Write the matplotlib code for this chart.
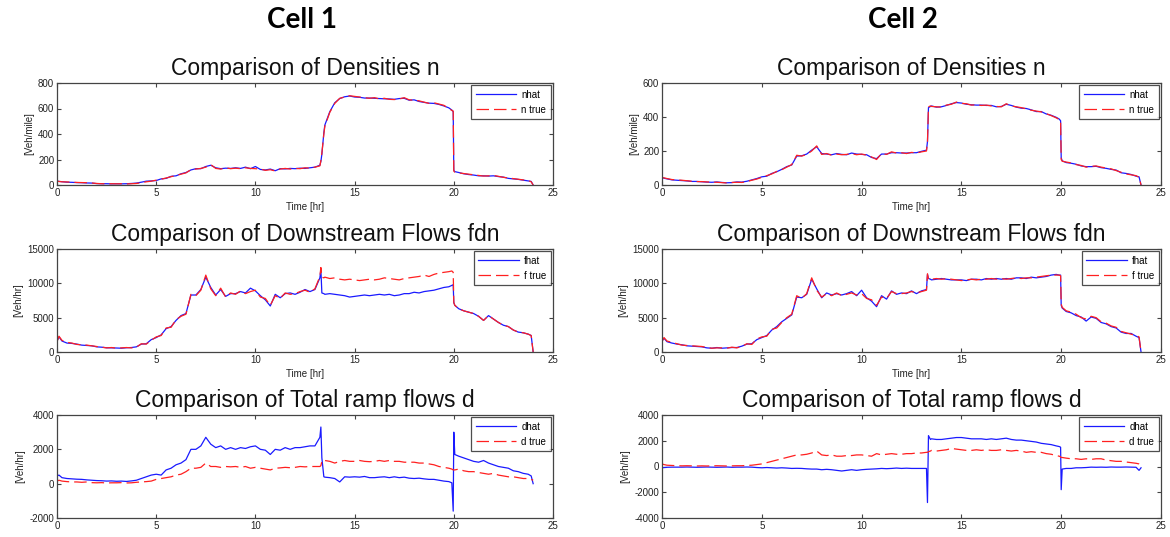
import matplotlib
matplotlib.use("Agg")
from matplotlib import pyplot as plt

plt.rcParams['font.family'] = ['Liberation Sans', 'DejaVu Sans']
plt.rcParams['axes.unicode_minus'] = False

# sample times [hr], one row per hour
hours = [0, 0.1, 0.25, 0.5, 0.75,
         1, 1.25, 1.5, 1.75,
         2, 2.25, 2.5, 2.75,
         3, 3.25, 3.5, 3.75,
         4, 4.25, 4.5, 4.75,
         5, 5.25, 5.5, 5.75,
         6, 6.25, 6.5, 6.75,
         7, 7.25, 7.5, 7.75,
         8, 8.25, 8.5, 8.75,
         9, 9.25, 9.5, 9.75,
         10, 10.25, 10.5, 10.75,
         11, 11.25, 11.5, 11.75,
         12, 12.25, 12.5, 12.75,
         13, 13.25, 13.3, 13.35, 13.45, 13.5, 13.75,
         14, 14.25, 14.5, 14.75,
         15, 15.25, 15.5, 15.75,
         16, 16.25, 16.5, 16.75,
         17, 17.25, 17.5, 17.75,
         18, 18.25, 18.5, 18.75,
         19, 19.25, 19.5, 19.75, 19.9, 19.97,
         20.0, 20.05, 20.25, 20.5, 20.75,
         21, 21.25, 21.5, 21.75,
         22, 22.25, 22.5, 22.75,
         23, 23.25, 23.5, 23.75, 23.9,
         24.0]

# ---- Cell 1 ----
c1_n_hat = [32, 28, 26, 22, 21,
            19, 18, 16, 15,
            11, 10, 10, 9,
            10, 9, 10, 12,
            15, 22, 30, 32,
            35, 48, 52, 68,
            72, 88, 98, 118,
            128, 128, 145, 155,
            135, 128, 132, 130,
            135, 130, 140, 128,
            145, 122, 118, 125,
            112, 128, 126, 130,
            128, 132, 130, 135,
            140, 155, 185, 240, 410, 470, 575,
            645, 678, 692, 698,
            690, 688, 682, 682,
            680, 678, 676, 675,
            672, 678, 680, 665,
            668, 655, 648, 642,
            640, 632, 620, 605, 588, 575,
            115, 105, 98, 88, 82,
            78, 72, 72, 70,
            72, 66, 62, 52,
            48, 44, 38, 32, 28,
            0]
c1_n_true = [30, 28, 25, 24, 22,
             20, 19, 18, 16,
             12, 10, 9, 10,
             9, 10, 8, 10,
             12, 18, 25, 30,
             38, 45, 55, 65,
             75, 85, 95, 120,
             125, 130, 140, 160,
             130, 125, 135, 128,
             132, 128, 135, 130,
             128, 125, 115, 120,
             110, 125, 130, 125,
             130, 128, 135, 132,
             140, 150, 190, 250, 400, 460, 570,
             640, 680, 690, 700,
             695, 690, 685, 680,
             685, 675, 680, 672,
             670, 675, 685, 668,
             665, 660, 650, 640,
             645, 635, 625, 600, 585, 580,
             110, 100, 95, 90, 85,
             80, 75, 70, 72,
             75, 68, 60, 55,
             50, 45, 40, 35, 25,
             0]
c1_f_hat = [1600, 2200, 1600, 1300, 1250,
            1150, 1000, 950, 900,
            750, 700, 620, 600,
            580, 550, 620, 650,
            750, 1150, 1200, 1800,
            2100, 2500, 3400, 3700,
            4600, 5300, 5600, 8300,
            8300, 9100, 10900, 9400,
            8300, 9100, 8100, 8500,
            8500, 8800, 8600, 9300,
            8900, 8200, 7600, 6700,
            8400, 7900, 8500, 8600,
            8400, 8700, 9100, 8800,
            9100, 10800, 12000, 8600, 8500, 8400, 8500,
            8400, 8300, 8200, 8000,
            8100, 8200, 8300, 8200,
            8300, 8400, 8300, 8400,
            8200, 8300, 8500, 8500,
            8700, 8600, 8800, 8900,
            9000, 9200, 9400, 9500, 9700, 9800,
            7200, 6800, 6300, 6000, 5800,
            5600, 5200, 4600, 5300,
            4800, 4300, 3900, 3700,
            3200, 2900, 2800, 2600, 2400,
            0]
c1_f_true = [1500, 2300, 1700, 1400, 1300,
             1100, 1050, 1000, 900,
             800, 700, 600, 650,
             550, 600, 650, 600,
             700, 1200, 1150, 1700,
             2200, 2400, 3500, 3600,
             4700, 5200, 5500, 8400,
             8200, 9000, 11200, 9200,
             8200, 9300, 8000, 8600,
             8400, 8900, 8500, 8800,
             9000, 8000, 7800, 6800,
             8200, 7800, 8600, 8400,
             8500, 8800, 9000, 8700,
             9200, 11000, 12300, 10900, 10800, 10900, 10700,
             10800, 10600, 10500, 10600,
             10500, 10400, 10500, 10600,
             10500, 10600, 10800, 10700,
             10600, 10500, 10700, 10800,
             10900, 11000, 11200, 11000,
             11300, 11500, 11600, 11700, 11800, 11600,
             7200, 6800, 6300, 6000, 5800,
             5600, 5200, 4600, 5300,
             4800, 4300, 3900, 3700,
             3200, 2900, 2800, 2600, 2400,
             0]
c1_d_hat = [450, 500, 350, 300, 280,
            260, 250, 220, 200,
            180, 170, 150, 160,
            140, 150, 130, 160,
            200, 300, 400, 500,
            550, 500, 800, 900,
            1100, 1200, 1400, 2000,
            2000, 2200, 2700, 2300,
            2100, 2200, 2000, 2100,
            2000, 2100, 2050, 2150,
            2200, 2000, 1950, 1700,
            2000, 1950, 2100, 2000,
            2100, 2100, 2150, 2200,
            2200, 2700, 3300, 1500, 400, 380, 350,
            300, 100, 400, 380,
            400, 380, 420, 350,
            350, 380, 400, 350,
            400, 350, 380, 320,
            300, 320, 280, 250,
            250, 200, 150, 120, 50, -1600,
            3000, 1700, 1600, 1500, 1400,
            1300, 1250, 1350, 1200,
            1100, 1000, 950, 900,
            750, 700, 600, 550, 450,
            0]
c1_d_true = [150, 200, 150, 120, 100,
             100, 80, 100, 60,
             50, 60, 40, 50,
             50, 60, 40, 50,
             80, 100, 120, 150,
             250, 300, 350, 400,
             500, 550, 700, 900,
             900, 950, 1200, 1000,
             1000, 950, 1000, 980,
             1000, 950, 1000, 900,
             950, 900, 850, 800,
             900, 920, 950, 930,
             950, 1000, 980, 1000,
             1000, 1000, 1050, 1300, 1400, 1350, 1300,
             1200, 1300, 1350, 1300,
             1300, 1350, 1300, 1280,
             1300, 1350, 1300, 1350,
             1300, 1300, 1250, 1250,
             1250, 1200, 1200, 1150,
             1100, 1000, 950, 900, 850, 800,
             800, 800, 850, 750, 700,
             700, 650, 600, 550,
             600, 500, 450, 400,
             400, 350, 300, 300, 250,
             200]

# ---- Cell 2 ----
c2_n_hat = [42, 40, 36, 30, 28,
            26, 24, 21, 21,
            19, 17, 16, 18,
            15, 13, 14, 18,
            17, 22, 30, 38,
            48, 52, 68, 78,
            92, 108, 118, 170,
            172, 182, 205, 225,
            185, 182, 178, 185,
            180, 178, 188, 182,
            180, 178, 162, 155,
            182, 182, 190, 190,
            188, 188, 190, 190,
            198, 205, 255, 455, 462, 465, 458,
            460, 468, 478, 485,
            482, 475, 472, 470,
            470, 468, 468, 460,
            462, 475, 468, 458,
            452, 450, 442, 432,
            432, 418, 410, 398, 388, 378,
            160, 142, 132, 128, 122,
            112, 108, 108, 110,
            102, 98, 92, 88,
            72, 68, 62, 52, 48,
            0]
c2_n_true = [45, 42, 38, 32, 30,
             28, 25, 22, 20,
             20, 18, 17, 16,
             14, 12, 15, 16,
             15, 20, 28, 35,
             45, 55, 65, 80,
             90, 105, 120, 175,
             170, 180, 200, 230,
             180, 185, 175, 182,
             178, 180, 185, 178,
             182, 175, 165, 150,
             185, 180, 195, 188,
             190, 185, 192, 188,
             195, 200, 250, 460, 465, 462, 460,
             458, 470, 475, 488,
             480, 478, 470, 472,
             468, 470, 465, 462,
             460, 478, 465, 460,
             455, 448, 440, 435,
             430, 420, 408, 395, 385, 380,
             150, 140, 135, 130, 120,
             115, 105, 110, 112,
             105, 100, 95, 85,
             75, 65, 60, 55, 45,
             0]
c2_f_hat = [1600, 2000, 1500, 1300, 1150,
            1050, 900, 850, 800,
            750, 600, 550, 650,
            550, 600, 650, 650,
            850, 1150, 1200, 1800,
            2100, 2400, 3200, 3700,
            4400, 4900, 5400, 8000,
            7900, 8400, 10600, 9200,
            7900, 8600, 8300, 8500,
            8300, 8500, 8800, 8200,
            9000, 7900, 7400, 6600,
            8200, 7700, 8900, 8400,
            8600, 8500, 8900, 8500,
            8900, 9100, 11300, 10700, 10600, 10500, 10600,
            10700, 10600, 10500, 10500,
            10500, 10400, 10600, 10600,
            10500, 10700, 10600, 10700,
            10600, 10700, 10600, 10800,
            10800, 10700, 10900, 10800,
            10900, 11000, 11200, 11300, 11200, 11200,
            6800, 6400, 5900, 5700, 5300,
            5100, 4500, 5100, 4900,
            4300, 4100, 3700, 3500,
            2900, 2700, 2700, 2300, 2100,
            0]
c2_f_true = [1500, 2100, 1600, 1400, 1200,
             1000, 950, 900, 850,
             800, 650, 550, 600,
             600, 550, 700, 600,
             800, 1200, 1100, 1900,
             2200, 2300, 3300, 3500,
             4300, 5000, 5500, 8200,
             7800, 8500, 10800, 9000,
             8000, 8500, 8200, 8600,
             8200, 8400, 8600, 8300,
             8500, 7800, 7600, 6800,
             8000, 7800, 8800, 8500,
             8500, 8600, 8800, 8600,
             8800, 9000, 11400, 10600, 10500, 10600, 10700,
             10600, 10700, 10600, 10500,
             10400, 10500, 10600, 10500,
             10600, 10600, 10700, 10600,
             10700, 10600, 10700, 10800,
             10700, 10800, 10800, 10900,
             11000, 11100, 11200, 11200, 11200, 11100,
             7000, 6500, 6000, 5800, 5500,
             5000, 4800, 5200, 5000,
             4400, 4200, 3800, 3600,
             3000, 2800, 2600, 2400, 2200,
             0]
c2_d_hat = [-100, -80, -60, -50, -50,
            -50, -40, -50, -60,
            -50, -40, -50, -60,
            -50, -40, -60, -50,
            -50, -40, -50, -80,
            -100, -80, -100, -120,
            -100, -120, -150, -140,
            -150, -180, -200, -200,
            -250, -220, -250, -300,
            -350, -300, -250, -300,
            -250, -220, -200, -180,
            -150, -170, -150, -120,
            -150, -130, -150, -150,
            -150, -150, -2800, 2400, 2100, 2150, 2100,
            2100, 2150, 2200, 2250,
            2250, 2200, 2150, 2150,
            2150, 2100, 2150, 2100,
            2150, 2200, 2100, 2050,
            2050, 2000, 1950, 1900,
            1800, 1750, 1700, 1600, 1550, 1500,
            -1800, -200, -150, -150, -100,
            -100, -80, -50, -60,
            -50, -60, -40, -50,
            -50, -40, -50, -60, -300,
            -100]
c2_d_true = [200, 150, 100, 80, 60,
             50, 60, 50, 40,
             50, 40, 50, 60,
             50, 40, 50, 60,
             60, 80, 100, 150,
             200, 300, 400, 500,
             600, 700, 800, 900,
             900, 950, 1050, 1200,
             900, 850, 900, 800,
             800, 850, 850, 900,
             900, 850, 800, 1000,
             900, 950, 1000, 950,
             950, 1000, 1000, 1050,
             1050, 1100, 1100, 1150, 1200, 1250, 1200,
             1250, 1300, 1400, 1350,
             1300, 1250, 1250, 1300,
             1250, 1300, 1250, 1250,
             1300, 1250, 1200, 1250,
             1200, 1100, 1150, 1100,
             1100, 1000, 950, 850, 800, 750,
             700, 700, 650, 600, 600,
             550, 600, 550, 600,
             600, 500, 450, 400,
             400, 350, 300, 250, 200,
             100]

W, H = 1170, 537
fig = plt.figure(figsize=(W / 100, H / 100), dpi=100)


def px_axes(x0, y0, x1, y1):
    return fig.add_axes([x0 / W, 1 - y1 / H, (x1 - x0) / W, (y1 - y0) / H])


cols = [(57, 553), (662, 1161)]
rows = [(83, 185), (249, 352), (415, 518)]

panels = [
    # (row, col, title, ylabel, ylim, yticks, hat, true, names)
    (0, 0, 'Comparison of Densities n', '[Veh/mile]', (0, 800), [0, 200, 400, 600, 800],
     c1_n_hat, c1_n_true, ('nhat', 'n true')),
    (1, 0, 'Comparison of Downstream Flows fdn', '[Veh/hr]', (0, 15000), [0, 5000, 10000, 15000],
     c1_f_hat, c1_f_true, ('fhat', 'f true')),
    (2, 0, 'Comparison of Total ramp flows d', '[Veh/hr]', (-2000, 4000), [-2000, 0, 2000, 4000],
     c1_d_hat, c1_d_true, ('dhat', 'd true')),
    (0, 1, 'Comparison of Densities n', '[Veh/mile]', (0, 600), [0, 200, 400, 600],
     c2_n_hat, c2_n_true, ('nhat', 'n true')),
    (1, 1, 'Comparison of Downstream Flows fdn', '[Veh/hr]', (0, 15000), [0, 5000, 10000, 15000],
     c2_f_hat, c2_f_true, ('fhat', 'f true')),
    (2, 1, 'Comparison of Total ramp flows d', '[Veh/hr]', (-4000, 4000), [-4000, -2000, 0, 2000, 4000],
     c2_d_hat, c2_d_true, ('dhat', 'd true')),
]

frame_col = '#444444'
text_col = '#222222'

for r, c, title, ylab, ylim, yticks, hat, true, names in panels:
    x0, x1 = cols[c]
    y0, y1 = rows[r]
    ax = px_axes(x0, y0, x1, y1)
    ax.plot(hours, hat, color='#1a1aff', lw=0.9, label=names[0])
    ax.plot(hours, true, color='#ff2020', lw=0.9, dashes=(10, 4), label=names[1])
    ax.set_xlim(0, 25)
    ax.set_ylim(*ylim)
    ax.set_xticks([0, 5, 10, 15, 20, 25])
    ax.set_yticks(yticks)
    ax.tick_params(direction='in', length=3, width=0.8, top=True, right=True,
                   labelsize=7, colors=frame_col, labelcolor=text_col, pad=2)
    for s in ax.spines.values():
        s.set_color(frame_col)
        s.set_linewidth(0.9)
    ax.set_ylabel(ylab, fontsize=7, color=text_col, labelpad=3)
    if r < 2:
        ax.set_xlabel('Time [hr]', fontsize=7, color=text_col, labelpad=3)
    ax.set_title(title, fontsize=16.5, color='#111111', pad=6)
    leg = ax.legend(loc='upper right', fontsize=7, frameon=True, fancybox=False,
                    handlelength=4.2, handletextpad=0.5, borderpad=0.45,
                    labelspacing=0.5, borderaxespad=0.25)
    leg.get_frame().set_edgecolor('#222222')
    leg.get_frame().set_linewidth(0.9)

fig.text(302 / W, 1 - 20 / H, 'Cell 1', fontsize=20, fontweight='bold',
         family=['Lato', 'DejaVu Sans'], ha='center', va='center')
fig.text(903 / W, 1 - 20 / H, 'Cell 2', fontsize=20, fontweight='bold',
         family=['Lato', 'DejaVu Sans'], ha='center', va='center')

fig.savefig('out.png', dpi=100)
